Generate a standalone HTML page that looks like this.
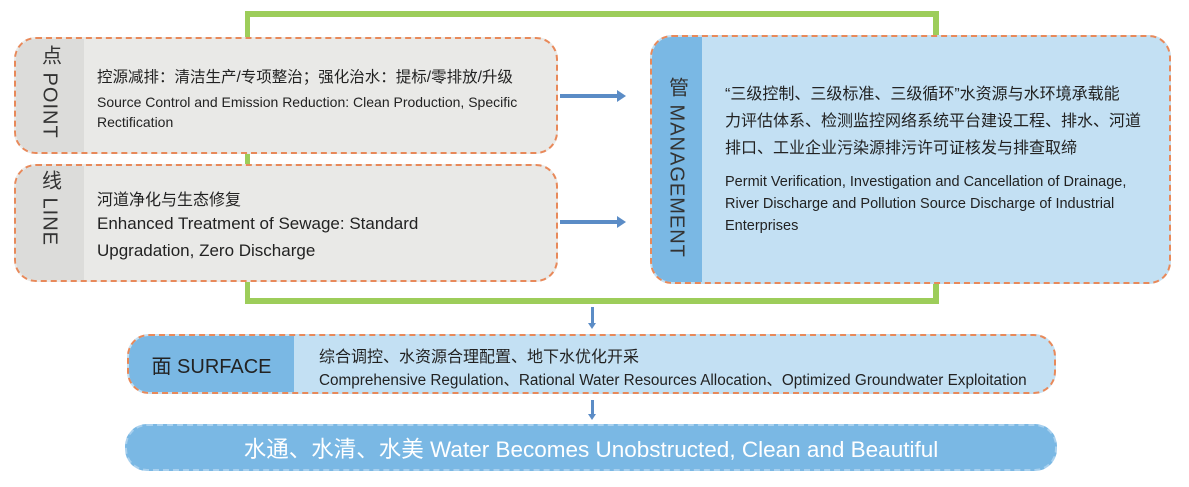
<!DOCTYPE html>
<html><head><meta charset="utf-8"><style>
body{margin:0;width:1189px;height:487px;background:#fff;position:relative;overflow:hidden;font-family:"Liberation Sans","Noto Sans CJK SC",sans-serif;color:#222}
.abs{position:absolute}
.box{position:absolute;border:2px dashed #e8895a;border-radius:22px;overflow:hidden;box-sizing:border-box}
.g{background:#9dcd5a;position:absolute}
.lbl{position:absolute;left:0;top:0;bottom:0;writing-mode:vertical-rl;font-size:20px;color:#333;display:flex;align-items:center;justify-content:flex-start;padding-top:8px;box-sizing:border-box;letter-spacing:1px}
.arrow{position:absolute;height:4px;background:#5b8cc6}
.arrow:after{content:"";position:absolute;right:-8px;top:-4px;border-left:9px solid #5b8cc6;border-top:6px solid transparent;border-bottom:6px solid transparent}
.va{position:absolute;width:3px;background:#5b8cc6}
.va:after{content:"";position:absolute;left:-3px;bottom:-5px;border-top:6px solid #5b8cc6;border-left:4.5px solid transparent;border-right:4.5px solid transparent}
</style></head><body>
<div class="g" style="left:245px;top:11px;width:694px;height:6px"></div>
<div class="g" style="left:245px;top:11px;width:5px;height:293px"></div>
<div class="g" style="left:933px;top:11px;width:6px;height:293px"></div>
<div class="g" style="left:245px;top:298px;width:694px;height:6px"></div>

<div class="box" style="left:14px;top:37px;width:544px;height:117px;background:#e9e9e7">
 <div class="lbl" style="width:68px;background:#dcdcda;padding-top:6px">点 POINT</div>
 <div class="abs" style="left:81px;top:26px;font-size:15.5px;white-space:nowrap">控源减排：清洁生产/专项整治；强化治水：提标/零排放/升级</div>
 <div class="abs" style="left:81px;top:53px;font-size:14px;line-height:20px;width:450px">Source Control and Emission Reduction: Clean Production, Specific Rectification</div>
</div>
<div class="box" style="left:14px;top:164px;width:544px;height:118px;background:#e9e9e7">
 <div class="lbl" style="width:68px;background:#dcdcda;padding-top:4px">线 LINE</div>
 <div class="abs" style="left:81px;top:20px;font-size:16px">河道净化与生态修复</div>
 <div class="abs" style="left:81px;top:44px;font-size:17px;line-height:27px;width:380px">Enhanced Treatment of Sewage: Standard Upgradation, Zero Discharge</div>
</div>

<div class="arrow" style="left:560px;top:94px;width:58px"></div>
<div class="arrow" style="left:560px;top:220px;width:58px"></div>

<div class="box" style="left:650px;top:35px;width:521px;height:249px;background:#c3e0f3">
 <div class="lbl" style="width:50px;background:#7ab8e4;padding-top:40px">管 MANAGEMENT</div>
 <div class="abs" style="left:73px;top:44px;font-size:16px;line-height:27px;white-space:nowrap">“三级控制、三级标准、三级循环”水资源与水环境承载能<br>力评估体系、检测监控网络系统平台建设工程、排水、河道<br>排口、工业企业污染源排污许可证核发与排查取缔</div>
 <div class="abs" style="left:73px;top:134px;font-size:14.5px;line-height:22px;width:425px">Permit Verification, Investigation and Cancellation of Drainage, River Discharge and Pollution Source Discharge of Industrial Enterprises</div>
</div>

<div class="va" style="left:591px;top:307px;height:17px"></div>
<div class="box" style="left:127px;top:334px;width:929px;height:60px;background:#c3e0f3">
 <div class="abs" style="left:0;top:0;bottom:0;width:165px;background:#7ab8e4;font-size:20px;display:flex;align-items:center;justify-content:center;color:#222">面 SURFACE</div>
 <div class="abs" style="left:190px;top:7px;font-size:16px">综合调控、水资源合理配置、地下水优化开采</div>
 <div class="abs" style="left:190px;top:32px;font-size:15.3px;white-space:nowrap">Comprehensive Regulation、Rational Water Resources Allocation、Optimized Groundwater Exploitation</div>
</div>
<div class="va" style="left:591px;top:400px;height:15px"></div>
<div class="abs" style="left:125px;top:424px;width:932px;height:47px;border-radius:22px;background:#7ab8e4;border:2px dashed #a8d0ee;box-sizing:border-box;color:#fff;font-size:22.5px;display:flex;align-items:center;justify-content:center">水通、水清、水美&nbsp;Water Becomes Unobstructed, Clean and Beautiful</div>
</body></html>
